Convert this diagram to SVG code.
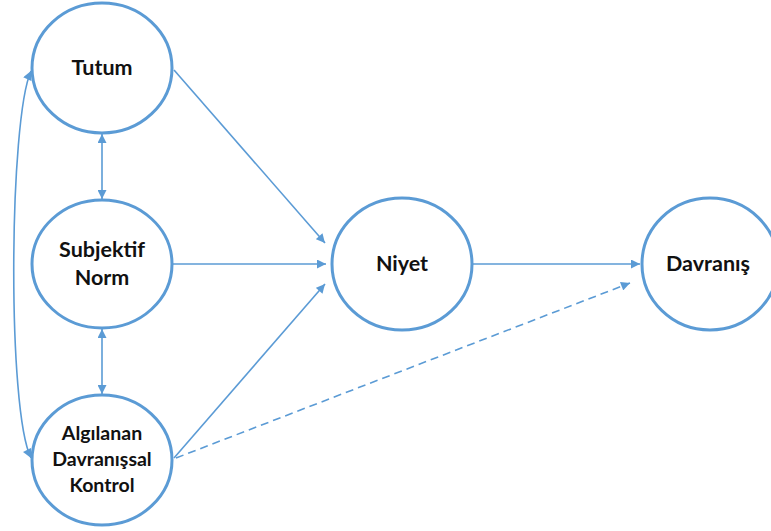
<svg xmlns="http://www.w3.org/2000/svg" width="771" height="531" viewBox="0 0 771 531">
<style>
.node ellipse{fill:#fff;stroke:#5B9BD5;stroke-width:3}
.node text{font-family:Lato,"Open Sans","Liberation Sans",sans-serif;font-weight:bold;fill:#111;text-anchor:middle}
.t1{font-size:21.5px}
.t2{font-size:19.5px}
.c{fill:none;stroke:#5B9BD5;stroke-width:1.6}
.dash{stroke-dasharray:8 5}
</style>
<defs>
<marker id="ah" viewBox="0 0 10 10" refX="10" refY="5" markerWidth="10" markerHeight="9" markerUnits="userSpaceOnUse" orient="auto-start-reverse">
<path d="M0,0 L10,5 L0,10 z" fill="#5B9BD5"/>
</marker>
</defs>
<g id="connectors">
<line class="c" x1="174" y1="70" x2="325" y2="243" marker-end="url(#ah)"/>
<line class="c" x1="173" y1="264" x2="326" y2="264" marker-end="url(#ah)"/>
<line class="c" x1="174" y1="458" x2="325" y2="284" marker-end="url(#ah)"/>
<line class="c" x1="473" y1="264" x2="640" y2="264" marker-end="url(#ah)"/>
<line class="c dash" x1="176" y1="458" x2="630" y2="283" marker-end="url(#ah)"/>
<line class="c" x1="102" y1="134" x2="102" y2="199" marker-start="url(#ah)" marker-end="url(#ah)"/>
<line class="c" x1="102" y1="329" x2="102" y2="394" marker-start="url(#ah)" marker-end="url(#ah)"/>
<path class="c" d="M31,71 C9,120 7,410 31,458" marker-start="url(#ah)" marker-end="url(#ah)"/>
</g>
<g id="tutum" class="node"><ellipse cx="102" cy="68" rx="70" ry="65"/><text class="t1" x="102" y="75">Tutum</text></g>
<g id="subjektif" class="node"><ellipse cx="102" cy="264" rx="70" ry="64"/><text class="t1" x="102" y="257">Subjektif</text><text class="t1" x="102" y="285">Norm</text></g>
<g id="algilanan" class="node"><ellipse cx="102" cy="460" rx="70" ry="65"/><text class="t2" x="102" y="440">Algılanan</text><text class="t2" x="102" y="466">Davranışsal</text><text class="t2" x="102" y="492">Kontrol</text></g>
<g id="niyet" class="node"><ellipse cx="402" cy="264" rx="70" ry="66"/><text class="t1" x="402" y="271">Niyet</text></g>
<g id="davranis" class="node"><ellipse cx="710" cy="264" rx="68" ry="66"/><text class="t1" x="708" y="271">Davranış</text></g>
</svg>
